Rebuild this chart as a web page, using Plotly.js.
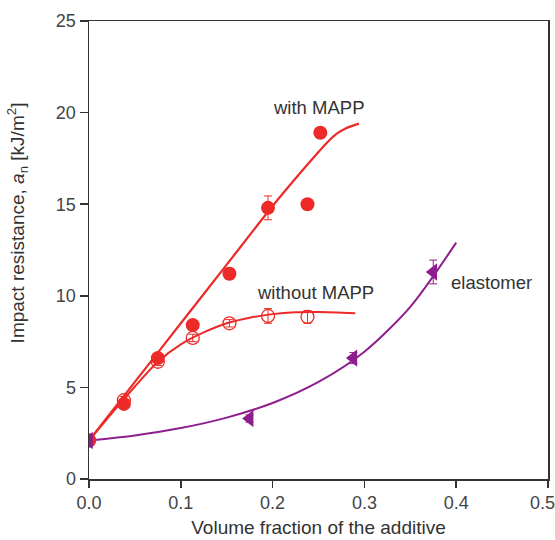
<!DOCTYPE html>
<html>
<head>
<meta charset="utf-8">
<script src="https://cdn.plot.ly/plotly-3.0.1.min.js"></script>
<style>html,body{margin:0;padding:0;background:#fff;}#chart{width:555px;height:540px;}</style>
</head>
<body>
<div id="chart"></div>
<script>
// Measured points
const withX = [0, 0.038, 0.075, 0.113, 0.153, 0.195, 0.238, 0.252];
const withY = [2.1, 4.1, 6.6, 8.4, 11.2, 14.8, 15.0, 18.9];
const withErr = [0, 0.15, 0.15, 0.25, 0.3, 0.65, 0, 0];

const withoutX = [0, 0.038, 0.075, 0.113, 0.153, 0.195, 0.238];
const withoutY = [2.1, 4.3, 6.4, 7.7, 8.5, 8.9, 8.85];
const withoutErr = [0, 0.2, 0.2, 0.2, 0.2, 0.4, 0.35];

const elastX = [0, 0.175, 0.288, 0.375];
const elastY = [2.1, 3.3, 6.6, 11.3];
const elastErr = [0, 0.2, 0.3, 0.65];

// Fitted curves
const withFitX = [0, 0.05, 0.1, 0.15, 0.2, 0.23, 0.25, 0.26, 0.27, 0.28, 0.294];
const withFitY = [2.1, 5.3, 8.5, 11.7, 14.9, 16.7, 17.85, 18.4, 18.85, 19.15, 19.4];

const withoutFitX = [0, 0.025, 0.05, 0.075, 0.1, 0.125, 0.15, 0.175, 0.2, 0.225, 0.25, 0.29];
const withoutFitY = [2.1, 3.6, 5.05, 6.4, 7.35, 8.0, 8.5, 8.8, 9.0, 9.1, 9.12, 9.05];

const elastFitX = [0, 0.05, 0.1, 0.15, 0.2, 0.25, 0.3, 0.35, 0.4];
const elastFitY = [2.1, 2.38, 2.78, 3.35, 4.15, 5.3, 6.95, 9.4, 12.9];

const xTicks = [0, 0.1, 0.2, 0.3, 0.4, 0.5];
const xTickText = ['0.0', '0.1', '0.2', '0.3', '0.4',
  '0.5<span style="font-size:10px;color:rgba(0,0,0,0)">00</span>'];
const yTicks = [0, 5, 10, 15, 20, 25];

const RED = '#ec2a27';
const PURPLE = '#8e1e8e';
const FONT = 'Liberation Sans, Arial, sans-serif';

const traces = [
  {x: withFitX, y: withFitY, mode: 'lines', line: {color: RED, width: 2.2, shape: 'spline', smoothing: 0.8}, hoverinfo: 'skip'},
  {x: withoutFitX, y: withoutFitY, mode: 'lines', line: {color: RED, width: 2, shape: 'spline', smoothing: 0.8}, hoverinfo: 'skip'},
  {x: elastFitX, y: elastFitY, mode: 'lines', line: {color: PURPLE, width: 2, shape: 'spline', smoothing: 0.8}, hoverinfo: 'skip'},
  {x: withoutX, y: withoutY, mode: 'markers',
   error_y: {type: 'data', array: withoutErr, visible: true, color: RED, thickness: 1, width: 4},
   marker: {symbol: 'circle-open', size: 13, color: RED, line: {width: 1.3, color: RED}}},
  {x: withX, y: withY, mode: 'markers',
   error_y: {type: 'data', array: withErr, visible: true, color: RED, thickness: 1, width: 4},
   marker: {symbol: 'circle', size: 14, color: RED}},
  {x: elastX, y: elastY, mode: 'markers',
   error_y: {type: 'data', array: elastErr, visible: true, color: PURPLE, thickness: 1, width: 4},
   marker: {symbol: 'triangle-left', size: 15, color: PURPLE}}
];

const layout = {
  width: 555, height: 540,
  margin: {l: 89, r: 7, t: 21, b: 61},
  paper_bgcolor: '#fff', plot_bgcolor: '#fff',
  showlegend: false,
  font: {family: FONT, color: '#3a3a3a'},
  xaxis: {
    range: [0, 0.5], tickvals: xTicks, ticktext: xTickText,
    ticks: 'outside', ticklen: 7, tickwidth: 1.5, tickcolor: '#333',
    showline: true, linecolor: '#333', linewidth: 1.5, mirror: true,
    showgrid: false, zeroline: false, ticklabeloverflow: 'allow',
    tickfont: {size: 18, color: '#444', family: FONT},
    title: {text: 'Volume fraction of the additive', font: {size: 19, color: '#333', family: FONT}, standoff: 8}
  },
  yaxis: {
    range: [0, 25], tickvals: yTicks,
    ticks: 'outside', ticklen: 8, tickwidth: 1.5, tickcolor: '#333',
    showline: true, linecolor: '#333', linewidth: 1.5, mirror: true,
    showgrid: false, zeroline: false, ticklabeloverflow: 'allow',
    tickfont: {size: 18, color: '#444', family: FONT}
  },
  annotations: [
    {xref: 'paper', yref: 'paper', x: -0.155, y: 0.56, textangle: -90, showarrow: false,
     xanchor: 'center', yanchor: 'middle',
     text: 'Impact resistance, <i>a</i><sub>n</sub> [kJ/m<sup>2</sup>]',
     font: {size: 19, color: '#333', family: FONT}},
    {x: 0.25, y: 20.3, xref: 'x', yref: 'y', showarrow: false, text: 'with MAPP',
     font: {size: 18.5, color: '#333', family: FONT}},
    {x: 0.247, y: 10.2, xref: 'x', yref: 'y', showarrow: false, text: 'without MAPP',
     font: {size: 18.5, color: '#333', family: FONT}},
    {x: 0.392, y: 10.7, xref: 'x', yref: 'y', showarrow: false, text: 'elastomer', xanchor: 'left',
     font: {size: 18.5, color: '#333', family: FONT}}
  ]
};

Plotly.newPlot('chart', traces, layout, {displayModeBar: false, staticPlot: true});
</script>
</body>
</html>
